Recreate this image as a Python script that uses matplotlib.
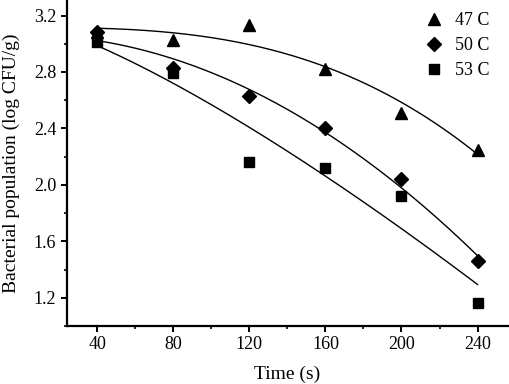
import numpy as np
import matplotlib
matplotlib.use('Agg')
import matplotlib.pyplot as plt
from matplotlib.ticker import MultipleLocator

plt.rcParams['font.family'] = ['Liberation Serif', 'DejaVu Serif']

# Data
time_s = [40, 80, 120, 160, 200, 240]
pop_47 = [3.08, 3.03, 3.13, 2.82, 2.51, 2.25]
pop_50 = [3.08, 2.83, 2.63, 2.40, 2.04, 1.46]
pop_53 = [3.01, 2.79, 2.16, 2.12, 1.92, 1.16]

labels = ['47 C', '50 C', '53 C']
markers = ['^', 'D', 's']
msizes = [9, 7.5, 7]


def weibull_fit(t, y):
    # log N = a - b * t**p ; grid over p, linear least squares for a, b
    t = np.asarray(t, float)
    y = np.asarray(y, float)
    best = None
    for p in np.linspace(0.5, 5, 451):
        A = np.column_stack([np.ones_like(t), -t ** p])
        sol, *_ = np.linalg.lstsq(A, y, rcond=None)
        err = np.sum((A @ sol - y) ** 2)
        if best is None or err < best[0]:
            best = (err, sol[0], sol[1], p)
    return best[1:]


fig = plt.figure(figsize=(5.1, 3.84), dpi=100)
ax = fig.add_axes([0.131, 0.151, 0.865, 0.849])

xfit = np.linspace(40, 240, 200)
for ys, lab, mk, ms in zip([pop_47, pop_50, pop_53], labels, markers, msizes):
    ax.plot(time_s, ys, linestyle='none', marker=mk, color='black',
            markersize=ms, label=lab)
    a, b, p = weibull_fit(time_s, ys)
    ax.plot(xfit, a - b * xfit ** p, color='black', lw=1.0)

ax.set_xlim(24, 256)
ax.set_ylim(1.0, 3.31)
ax.set_xticks(time_s)
ax.xaxis.set_minor_locator(MultipleLocator(20))
ax.set_yticks(np.arange(1.2, 3.3, 0.4))
ax.yaxis.set_minor_locator(MultipleLocator(0.2))

for side in ['top', 'right']:
    ax.spines[side].set_visible(False)
for side in ['left', 'bottom']:
    ax.spines[side].set_linewidth(1.6)
ax.tick_params(which='major', direction='out', length=4, width=1.4, labelsize=13)
ax.tick_params(which='minor', direction='out', length=2.5, width=1.2)

ax.set_xlabel('Time (s)', fontsize=14, labelpad=9)
ax.set_ylabel('Bacterial population (log CFU/g)', fontsize=14, labelpad=10)

ax.legend(loc='upper right', frameon=False, fontsize=13, handletextpad=0.6,
          borderaxespad=0.0, labelspacing=0.45, bbox_to_anchor=(0.975, 0.985),
          handlelength=1.2)

fig.savefig('out.png', dpi=100)
